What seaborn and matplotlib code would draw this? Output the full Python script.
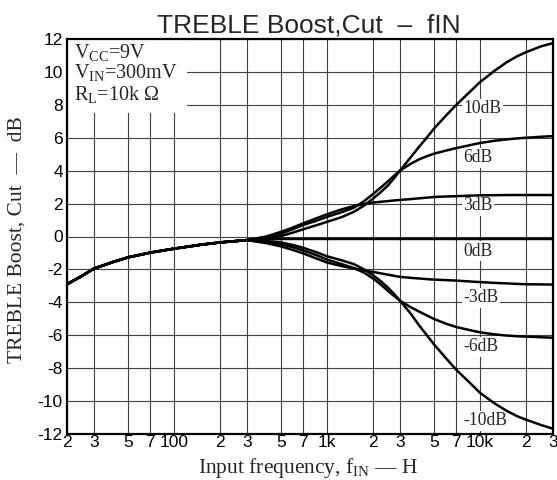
import numpy as np
import pandas as pd
import matplotlib
matplotlib.use('Agg')
import matplotlib.pyplot as plt
import seaborn as sns
from matplotlib.ticker import NullLocator
from matplotlib.patches import Rectangle

# frequency points (Hz)
freq = [20, 25, 30, 40, 50, 70, 100, 150, 200, 300,
        400, 500, 600, 700, 850, 1000, 1250, 1500, 1750, 2000,
        2250, 2500, 2750, 3000, 3500, 4000, 4500, 5000, 6000, 7000,
        8500, 10000, 12500, 15000, 17500, 20000, 25000, 30000]

# shared low-frequency part (20 Hz .. 300 Hz)
low = [-2.9, -2.4, -1.95, -1.55, -1.27, -0.98, -0.74, -0.5, -0.36, -0.22]

boost_10 = low + [-0.1, 0.02, 0.24, 0.44, 0.68, 0.89, 1.18, 1.5, 1.88, 2.3,
                  2.7, 3.1, 3.55, 4.0, 4.78, 5.45, 6.02, 6.55, 7.35, 8.0,
                  8.75, 9.38, 10.08, 10.6, 10.95, 11.2, 11.55, 11.75]
boost_6 = low + [-0.04, 0.17, 0.45, 0.7, 0.95, 1.19, 1.48, 1.75, 2.15, 2.58,
                 2.98, 3.35, 3.7, 4.0, 4.4, 4.69, 4.88, 5.03, 5.22, 5.37,
                 5.54, 5.68, 5.82, 5.9, 5.96, 6.0, 6.06, 6.1]
boost_3 = low + [0.0, 0.28, 0.55, 0.8, 1.1, 1.35, 1.65, 1.85, 1.98, 2.06,
                 2.11, 2.15, 2.19, 2.22, 2.27, 2.32, 2.36, 2.4, 2.43, 2.45,
                 2.48, 2.5, 2.51, 2.52, 2.52, 2.52, 2.52, 2.52]
flat_0 = low + [-0.18, -0.15, -0.15, -0.15, -0.15, -0.15, -0.15, -0.15, -0.15, -0.15,
                -0.15, -0.15, -0.15, -0.15, -0.15, -0.15, -0.15, -0.15, -0.15, -0.15,
                -0.15, -0.15, -0.15, -0.15, -0.15, -0.15, -0.15, -0.15]
cut_3 = low + [-0.4, -0.6, -0.82, -1.03, -1.33, -1.58, -1.8, -1.95, -2.06, -2.15,
               -2.24, -2.32, -2.39, -2.45, -2.51, -2.55, -2.59, -2.62, -2.65, -2.68,
               -2.73, -2.77, -2.82, -2.85, -2.88, -2.9, -2.91, -2.92]
cut_6 = low + [-0.34, -0.48, -0.65, -0.85, -1.13, -1.4, -1.68, -1.92, -2.2, -2.55,
               -2.92, -3.3, -3.62, -3.9, -4.28, -4.56, -4.8, -5.01, -5.3, -5.5,
               -5.68, -5.82, -5.95, -6.02, -6.06, -6.08, -6.12, -6.15]
cut_10 = low + [-0.28, -0.36, -0.52, -0.69, -0.95, -1.2, -1.45, -1.68, -2.0, -2.35,
                -2.72, -3.1, -3.5, -3.9, -4.65, -5.4, -6.0, -6.55, -7.4, -8.1,
                -8.85, -9.5, -10.15, -10.6, -10.92, -11.13, -11.45, -11.68]

settings = ['10dB', '6dB', '3dB', '0dB', '-3dB', '-6dB', '-10dB']
curves = [boost_10, boost_6, boost_3, flat_0, cut_3, cut_6, cut_10]
label_y = [7.76, 4.77, 1.86, -0.89, -3.72, -6.69, -11.19]

xticks = [20, 30, 50, 70, 100, 200, 300, 500, 700, 1000, 2000, 3000, 5000, 7000, 10000, 20000, 30000]
xticklabels = ['2', '3', '5', '7', '100', '2', '3', '5', '7', '1k', '2', '3', '5', '7', '10k', '2', '3']
yticks = list(range(-12, 13, 2))
yticklabels = [str(v) for v in yticks]

df = pd.DataFrame({
    'freq': freq * len(settings),
    'gain': [g for c in curves for g in c],
    'setting': [s for s in settings for _ in freq],
})

sns.set_style('white')
plt.rcParams['font.family'] = ['Liberation Sans', 'DejaVu Sans']
plt.rcParams['mathtext.fontset'] = 'custom'
plt.rcParams['mathtext.rm'] = 'Liberation Serif'
plt.rcParams['mathtext.it'] = 'Liberation Serif:italic'

fig = plt.figure(figsize=(5.57, 4.8), dpi=100)
ax = fig.add_axes([67 / 557, 1 - 434 / 480, 486 / 557, 395 / 480])
ax.set_xscale('log')

sns.lineplot(data=df, x='freq', y='gain', hue='setting', hue_order=settings,
             palette=['black'] * len(settings), linewidth=1.8, legend=False,
             ax=ax, zorder=3)

ax.set_xlim(20, 30000)
ax.set_ylim(-12, 12)
ax.set_xticks(xticks)
ax.set_xticklabels(xticklabels)
ax.xaxis.set_minor_locator(NullLocator())
ax.set_yticks(yticks)
ax.set_yticklabels(yticklabels)
ax.tick_params(axis='both', length=0, labelsize=12.5, colors='black')
ax.tick_params(axis='x', pad=1)
ax.tick_params(axis='y', pad=3)
ax.grid(True, color='0.25', linewidth=0.8)
ax.set_axisbelow(True)
for sp in ax.spines.values():
    sp.set_linewidth(1.6)
    sp.set_color('black')

ax.set_xlabel('')
ax.set_ylabel('')

# white area behind the conditions text
ax.add_patch(Rectangle((0, 0.8127), 0.247, 0.19, transform=ax.transAxes,
                       facecolor='white', edgecolor='none', zorder=1.5))
serif = ['Liberation Serif', 'DejaVu Serif']
cond = [r'V$_{\mathrm{CC}}$=9V', r'V$_{\mathrm{IN}}$=300mV', r'R$_{\mathrm{L}}$=10k $\Omega$']
for txt, yb in zip(cond, [0.952, 0.901, 0.846]):
    ax.text(0.0144, yb, txt, transform=ax.transAxes, family=serif,
            fontsize=14.5, va='baseline', ha='left', zorder=4)

for s, yl in zip(settings, label_y):
    ax.text(7800, yl, s, family=serif, fontsize=12.7, va='center', ha='left',
            zorder=2.5, bbox=dict(facecolor='white', edgecolor='none', pad=1))

fig.text(309 / 557, 1 - 32 / 480, 'TREBLE Boost,Cut  \u2013  fIN', fontsize=19,
         ha='center', va='baseline')
fig.text(17 / 557, 1 - 240 / 480, 'TREBLE Boost, Cut  \u2014  dB', family=serif,
         fontsize=15.5, rotation=90, ha='center', va='center')
fig.text(308 / 557, 1 - 473 / 480, 'Input frequency, f$_{\\mathrm{IN}}$ \u2014 H',
         family=serif, fontsize=15.5, ha='center', va='baseline')

fig.savefig('out.png', dpi=100)
